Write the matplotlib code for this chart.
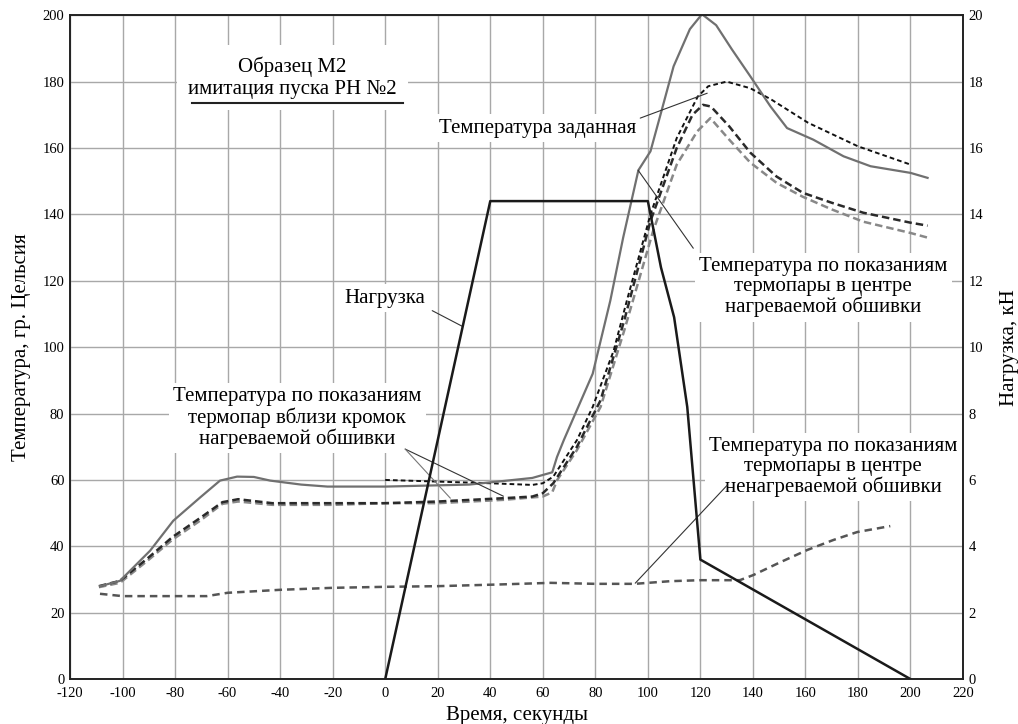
import matplotlib
matplotlib.use("Agg")
import matplotlib.pyplot as plt
from matplotlib.lines import Line2D

plt.rcParams['font.family'] = ['Liberation Serif', 'DejaVu Serif']
plt.rcParams['axes.unicode_minus'] = False

# Температура в центре нагреваемой обшивки (сплошная серая)
t_center = [-108.6, -101, -89.5, -80.7, -70.5, -62.9, -56.4, -50, -43.8, -32, -22, 0, 32, 56,
            63.6, 65.4, 68, 79, 85.7, 90.6, 96.4, 101, 104.8, 109.8, 116, 120.6, 126, 132,
            139, 146.7, 153, 163, 174.5, 184.8, 200, 206.5]
T_center = [28, 29.6, 38.7, 47.7, 54.7, 59.8, 61, 60.9, 59.8, 58.6, 58, 58, 58.6, 60.6,
            62.3, 66.9, 72, 92, 114, 133, 153.3, 159, 170, 184.6, 195.8, 200.3, 197, 189.7,
            181.6, 172.5, 166, 162.5, 157.5, 154.5, 152.5, 151]

# Температура заданная (черная мелкий пунктир)
t_set = [0, 20, 40, 56, 60, 64, 73, 79, 87, 92, 101, 111, 119, 123, 130, 139, 147, 161, 180, 200]
T_set = [60, 59.5, 59, 58.5, 59, 61, 72, 82, 99, 114, 140, 163, 175.5, 178.6, 180, 178,
         174.6, 167.6, 160.5, 155]

# Термопары вблизи кромок (черная и серая штриховые)
t_edge1 = [-109, -101, -90, -81, -70, -62, -56, -43, -20, 0, 20, 45, 56, 60, 64, 73, 82, 91,
           101, 111, 117, 121, 124, 131, 139, 149, 159, 170, 182, 200, 206.5]
T_edge1 = [28, 29.6, 36.7, 42.8, 48.8, 53.3, 54.2, 53, 53, 53, 53.5, 54.5, 55, 56, 59, 70, 84,
           108, 138, 160, 170, 173, 172.5, 166.5, 158.6, 151.4, 146.5, 143.5, 140.5, 137.5, 136.6]
t_edge2 = [-109, -101, -90, -81, -70, -62, -56, -43, -20, 0, 20, 45, 60, 63.6, 65.5, 73, 82,
           91, 102, 111, 118.8, 123.8, 131, 139, 149, 159, 170, 182, 200, 206.5]
T_edge2 = [27.7, 29, 36, 42, 48, 52.8, 53.5, 52.5, 52.5, 53, 53, 54, 55, 56.3, 60, 69, 82,
           105, 135, 155, 165, 169, 162.5, 155.6, 149.5, 145.3, 141.5, 137.8, 134.4, 133]

# Термопара в центре ненагреваемой обшивки
t_cold = [-108.6, -100, -68, -60, -40, -20, 0, 20, 43, 63, 80, 95, 108.5, 120, 135, 140,
          150.4, 160.7, 170.6, 179.7, 192.3]
T_cold = [25.7, 25, 25, 26, 26.9, 27.5, 27.8, 28, 28.5, 29, 28.7, 28.7, 29.5, 29.8, 29.8,
          31.3, 35.2, 38.9, 41.9, 44.3, 46.1]

# Нагрузка, кН
t_load = [0, 40, 100, 105, 110, 115, 120, 200]
F_load = [0, 14.4, 14.4, 12.4, 10.9, 8.2, 3.6, 0]

fig = plt.figure(figsize=(10.18, 7.24), dpi=100)
ax = fig.add_axes([0.0688, 0.062, 0.8772, 0.917])
ax2 = ax.twinx()

ax.plot(t_cold, T_cold, color='#555555', lw=1.8, dashes=(3, 2))
ax.plot(t_edge2, T_edge2, color='#888888', lw=1.8, dashes=(3, 1.6))
ax.plot(t_edge1, T_edge1, color='#2a2a2a', lw=1.8, dashes=(3, 1.6))
ax.plot(t_set, T_set, color='#111111', lw=1.4, dashes=(2.4, 1.6))
ax.plot(t_center, T_center, color='#707070', lw=1.6)
ax2.plot(t_load, F_load, color='#1a1a1a', lw=1.8)

ax.set_xlim(-120, 220)
ax.set_ylim(0, 200)
ax2.set_ylim(0, 20)
ax.set_xticks(range(-120, 221, 20))
ax.set_yticks(range(0, 201, 20))
ax2.set_yticks(range(0, 21, 2))
ax.grid(True, color='#a8a8a8', lw=1)
ax.tick_params(axis='y', length=0, labelsize=10.5, pad=4)
ax.tick_params(axis='x', length=0, labelsize=10.5, pad=6)
ax2.tick_params(length=0, labelsize=10.5, pad=4)
for a in (ax, ax2):
    for s in a.spines.values():
        s.set_color('#222222')
        s.set_linewidth(1.2)

ax.set_xlabel('Время, секунды', fontsize=15, labelpad=4)
ax.set_ylabel('Температура, гр. Цельсия', fontsize=15, labelpad=8)
ax2.set_ylabel('Нагрузка, кН', fontsize=15, labelpad=12)

box = dict(facecolor='white', edgecolor='none', pad=3)
fs = 15
ax.text(-35.4, 181.2, 'Образец М2\nимитация пуска РН №2', fontsize=fs, ha='center',
        va='center', linespacing=1.25, bbox=dict(facecolor='white', edgecolor='none', pad=8))
fig.add_artist(Line2D([192 / 1018, 403 / 1018], [1 - 103 / 724, 1 - 103 / 724],
                      color='#222222', lw=1.5))

ax.text(57.9, 166, 'Температура заданная', fontsize=fs, ha='center', va='center', bbox=box)
ax.text(166.8, 118, 'Температура по показаниям\nтермопары в центре\nнагреваемой обшивки',
        fontsize=fs, ha='center', va='center', linespacing=1.05, bbox=box)
ax.text(-33.5, 78.6, 'Температура по показаниям\nтермопар вблизи кромок\nнагреваемой обшивки',
        fontsize=fs, ha='center', va='center', linespacing=1.05, bbox=box)
ax.text(170.6, 63.9, 'Температура по показаниям\nтермопары в центре\nненагреваемой обшивки',
        fontsize=fs, ha='center', va='center', linespacing=1.05, bbox=box)
ax.text(0, 114.8, 'Нагрузка', fontsize=fs, ha='center', va='center', bbox=box)

lead = dict(arrowstyle='-', lw=0.8, color='#333333', shrinkA=0, shrinkB=0)
ax.annotate('', xy=(122.6, 176.5), xytext=(97.1, 169), arrowprops=lead)
ax.annotate('', xy=(96.3, 153.3), xytext=(117.3, 129.8), arrowprops=lead)
ax.annotate('', xy=(29.3, 106.3), xytext=(17.9, 111), arrowprops=lead)
ax.annotate('', xy=(45, 55.1), xytext=(7.6, 69.3), arrowprops=lead)
ax.annotate('', xy=(24.8, 54.5), xytext=(7.6, 69.3), arrowprops=dict(lead, color='#777777'))
ax.annotate('', xy=(95.2, 28.9), xytext=(130.2, 58.4), arrowprops=lead)

fig.savefig('out.png', dpi=100)
